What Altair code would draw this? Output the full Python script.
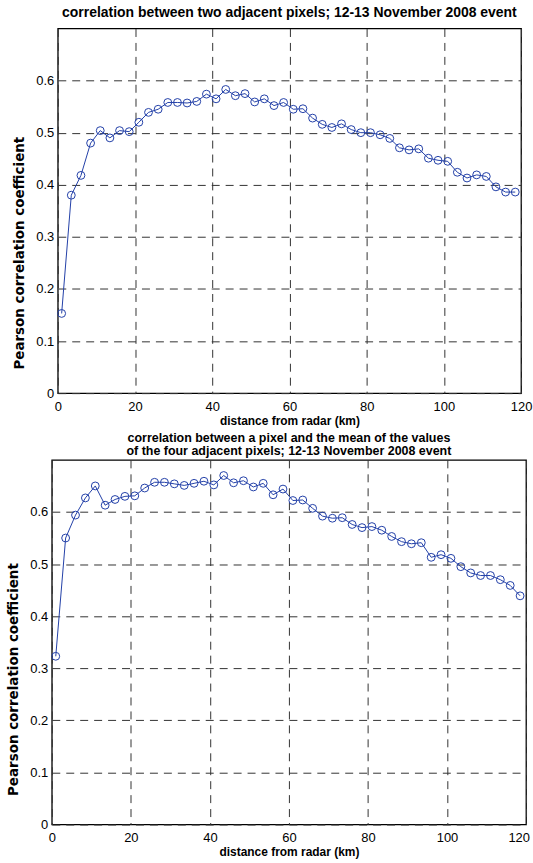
import altair as alt
import pandas as pd

distance_km = [1, 3.5, 6, 8.5, 11, 13.5, 16, 18.5, 21, 23.5, 26, 28.5, 31, 33.5, 36,
               38.5, 41, 43.5, 46, 48.5, 51, 53.5, 56, 58.5, 61, 63.5, 66, 68.5, 71,
               73.5, 76, 78.5, 81, 83.5, 86, 88.5, 91, 93.5, 96, 98.5, 101, 103.5, 106,
               108.5, 111, 113.5, 116, 118.5]

corr_two_adjacent = [0.153, 0.380, 0.418, 0.480, 0.504, 0.490, 0.504, 0.502, 0.520, 0.539,
                     0.545, 0.558, 0.558, 0.557, 0.560, 0.574, 0.565, 0.583, 0.571, 0.575,
                     0.559, 0.565, 0.552, 0.558, 0.545, 0.546, 0.528, 0.516, 0.510, 0.517,
                     0.506, 0.500, 0.500, 0.496, 0.489, 0.471, 0.467, 0.469, 0.451, 0.447,
                     0.445, 0.424, 0.413, 0.419, 0.416, 0.396, 0.386, 0.386]

corr_four_mean = [0.323, 0.550, 0.594, 0.627, 0.650, 0.613, 0.624, 0.630, 0.631, 0.646,
                  0.657, 0.657, 0.654, 0.651, 0.655, 0.659, 0.652, 0.670, 0.656, 0.660,
                  0.648, 0.655, 0.633, 0.644, 0.622, 0.623, 0.607, 0.592, 0.588, 0.589,
                  0.576, 0.570, 0.572, 0.565, 0.553, 0.543, 0.539, 0.541, 0.513, 0.518,
                  0.511, 0.495, 0.483, 0.478, 0.478, 0.470, 0.459, 0.439]

x_ticks = [0, 20, 40, 60, 80, 100, 120]
y_ticks = [0, 0.1, 0.2, 0.3, 0.4, 0.5, 0.6]

title_top = "correlation between two adjacent pixels; 12-13 November 2008 event"
title_bottom = ["correlation between a pixel and the mean of the values",
                "of the four adjacent pixels; 12-13 November 2008 event"]
x_title = "distance from radar (km)"
y_title = "Pearson correlation coefficient"

FONT = "Liberation Sans, Arial, Helvetica, sans-serif"
YFONT = "DejaVu Sans, Liberation Sans, sans-serif"
BLUE = "#2340a8"
PLOT_H = 366


def panel(values, title, width, title_size, title_offset, flush, title_y):
    df = pd.DataFrame({"distance": distance_km, "r": values})
    x_axis = alt.Axis(values=x_ticks, title=x_title, labelPadding=7, titlePadding=2,
                      labelFlush=flush, labelFlushOffset=3.5 if flush else 0)
    base = alt.Chart(df).encode(
        x=alt.X("distance:Q", scale=alt.Scale(domain=[0, 120], nice=False, zero=False),
                axis=x_axis),
        y=alt.Y("r:Q", scale=alt.Scale(domain=[0, 0.7], nice=False),
                axis=alt.Axis(values=y_ticks, format=".1~f", title=y_title,
                              labelPadding=4, titlePadding=9.5,
                              titleFont=YFONT, titleFontSize=13.5, titleY=title_y)),
    )
    line = base.mark_line(color=BLUE, strokeWidth=1)
    pts = base.mark_point(shape="circle", filled=False, size=62, color=BLUE,
                          strokeWidth=1, opacity=1)
    return alt.layer(line, pts).properties(
        width=width,
        height=PLOT_H,
        title=alt.TitleParams(text=title, font=FONT, fontSize=title_size,
                              fontWeight="bold", color="black", anchor="middle",
                              frame="group", offset=title_offset, lineHeight=13.4),
    )


def spacer(w):
    return alt.Chart(pd.DataFrame({"s": [0]})).mark_point(opacity=0, size=1).encode(
        x=alt.value(0), y=alt.value(1)
    ).properties(width=w, height=PLOT_H, view=alt.ViewBackground(stroke="transparent"))


top = panel(corr_two_adjacent, title_top, 465, 14, 9, False, 225)
bottom = panel(corr_four_mean, title_bottom, 476, 12.5, 2, True, 220)

chart = alt.vconcat(
    alt.hconcat(spacer(7), top, spacing=0),
    alt.hconcat(spacer(1), bottom, spacing=0),
    spacing=4,
).properties(
    padding={"left": 1, "top": 3, "right": 0, "bottom": 0},
    background="white",
).configure_view(
    stroke="black", strokeWidth=1.3
).configure_axis(
    domain=False, ticks=False,
    labelFont=FONT, labelFontSize=13, labelColor="black",
    titleFont=FONT, titleFontSize=12, titleFontWeight="bold", titleColor="black",
    grid=True, gridColor="#333333", gridDash=[8, 6], gridWidth=1, gridOpacity=1,
)

chart.save("out.html", embed_options={"renderer": "svg", "actions": False})
